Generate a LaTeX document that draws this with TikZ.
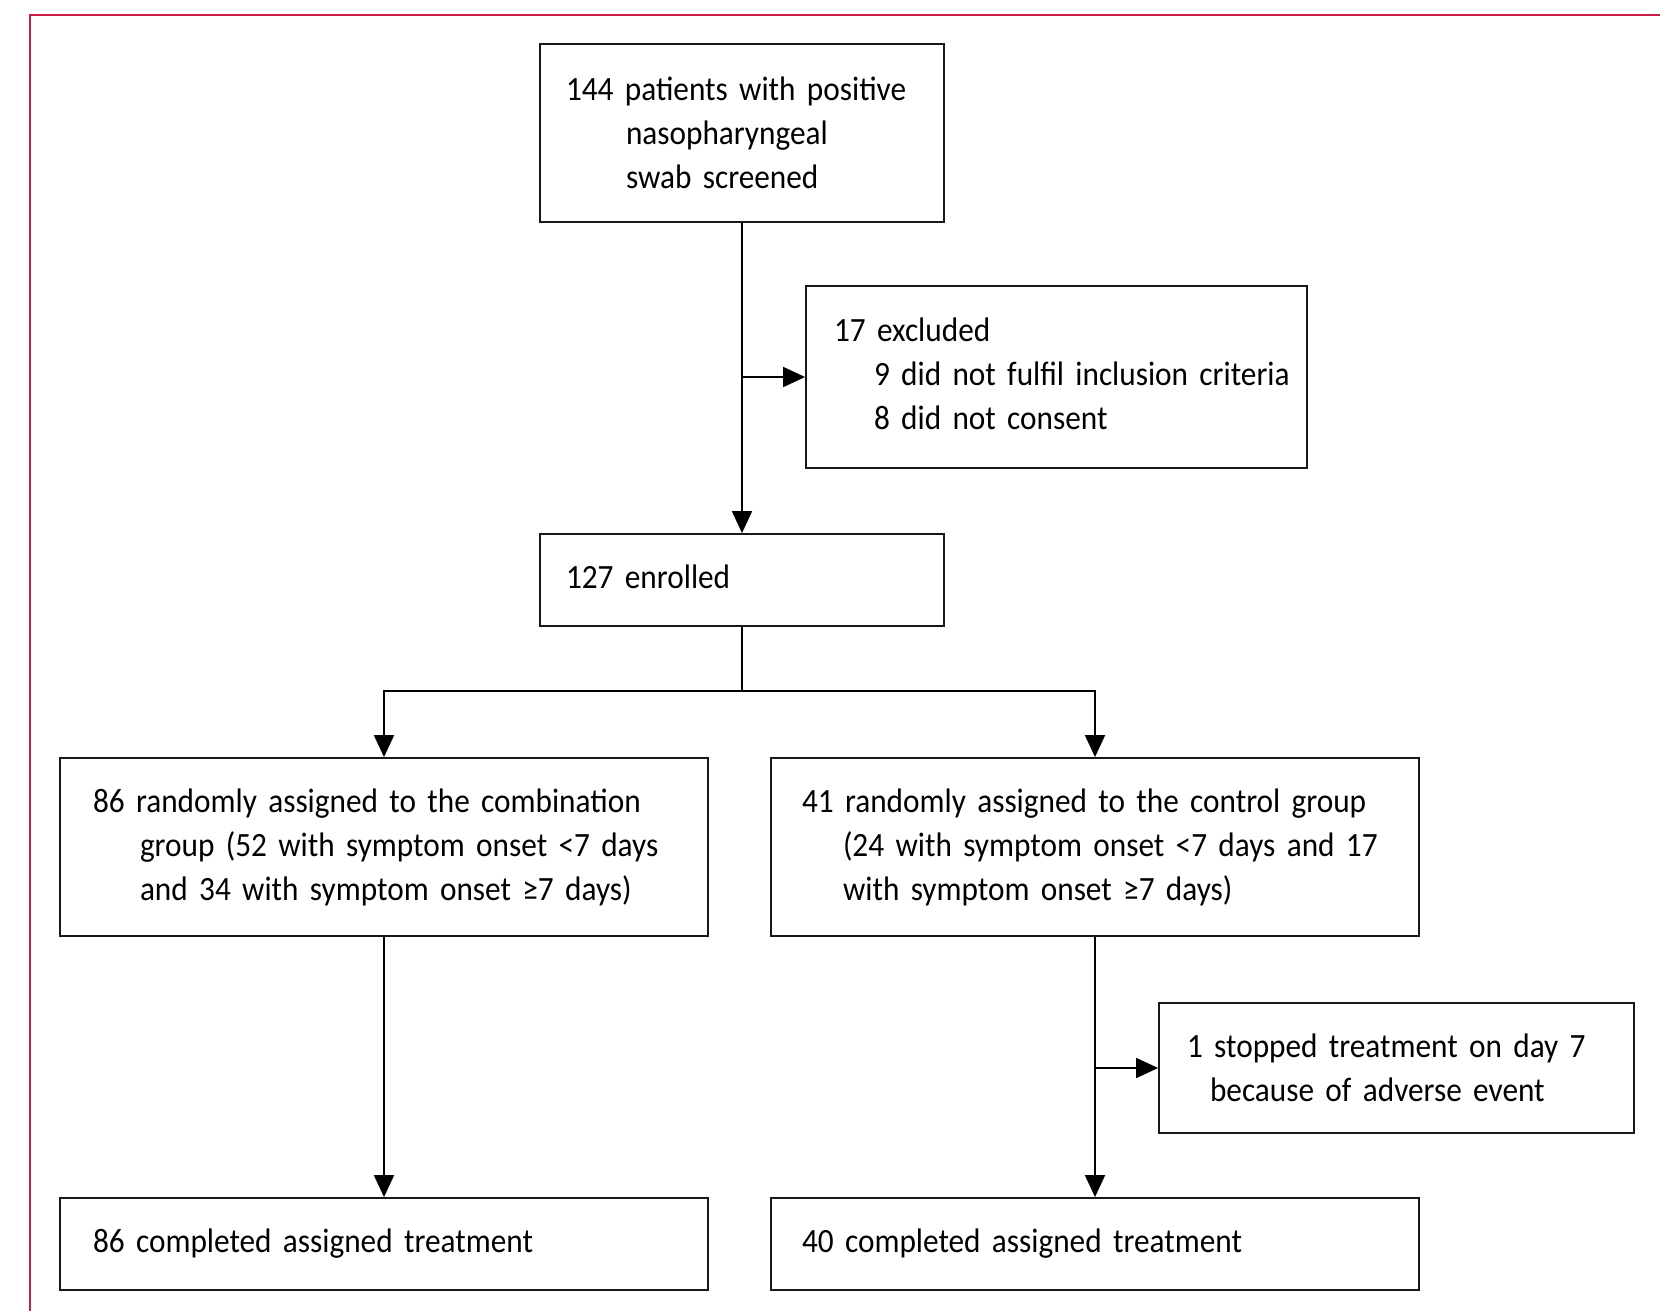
\documentclass[tikz,border=0pt]{standalone}
\usepackage{fontspec}
\setmainfont{Carlito}[FakeStretch=0.92]
\usetikzlibrary{arrows.meta}
\definecolor{framecol}{RGB}{200,30,70}
\newcommand{\tline}[2]{\hspace*{#1pt}\mbox{#2}}
\newcommand{\lowstrut}{\rule[-7pt]{0pt}{7pt}}
\newcommand{\boxfont}{\fontsize{34}{44}\selectfont}
\begin{document}
\begin{tikzpicture}[x=1pt,y=-1pt,
  box/.style={draw=black!90, line width=1.8pt, inner sep=0pt, align=left,
    font=\boxfont},
  arr/.style={line width=1.8pt, -{Triangle[length=22pt,width=20pt]}},
  plain/.style={line width=1.8pt}]
\useasboundingbox (0,0) rectangle (1660,1311);
\fill[white] (0,0) rectangle (1660,1311);
\draw[framecol, line width=2.5pt] (30,1311) -- (30,15) -- (1660,15);

\node[box, text width=404pt, minimum height=178pt] (b1) at (742,133)
  {\tline{26}{144 patients with positive}\\\tline{86}{nasopharyngeal}\\\tline{86}{swab screened}};
\node[box, text width=501pt, minimum height=182pt] (exc) at (1056.5,377)
  {\tline{28}{17 excluded}\\\tline{68}{9 did not fulfil inclusion criteria}\\\tline{68}{8 did not consent\lowstrut}};
\node[box, text width=404pt, minimum height=92pt] (enr) at (742,580)
  {\tline{26}{127 enrolled\lowstrut}};
\node[box, text width=648pt, minimum height=178pt] (comb) at (384,847)
  {\tline{33}{86 randomly assigned to the combination}\\\tline{80}{group (52 with symptom onset <7 days}\\\tline{80}{and 34 with symptom onset ≥7 days)}};
\node[box, text width=648pt, minimum height=178pt] (ctrl) at (1095,847)
  {\tline{31}{41 randomly assigned to the control group}\\\tline{72}{(24 with symptom onset <7 days and 17}\\\tline{72}{with symptom onset ≥7 days)}};
\node[box, text width=475pt, minimum height=130pt] (stop) at (1396.5,1068)
  {\tline{28}{1 stopped treatment on day 7}\\\tline{51}{because of adverse event}};
\node[box, text width=648pt, minimum height=92pt] (bl) at (384,1244)
  {\tline{33}{86 completed assigned treatment}};
\node[box, text width=648pt, minimum height=92pt] (br) at (1095,1244)
  {\tline{31}{40 completed assigned treatment}};

\coordinate (j1) at (b1.south |- exc.west);
\coordinate (split) at (742,691);
\coordinate (j2) at (ctrl.south |- stop.west);

\draw[arr] (b1.south) -- (enr.north);
\draw[arr] (j1) -- (exc.west);
\draw[plain] (enr.south) -- (split);
\draw[arr] (split) -| (comb.north);
\draw[arr] (split) -| (ctrl.north);
\draw[arr] (comb.south) -- (bl.north);
\draw[arr] (ctrl.south) -- (br.north);
\draw[arr] (j2) -- (stop.west);
\end{tikzpicture}
\end{document}
